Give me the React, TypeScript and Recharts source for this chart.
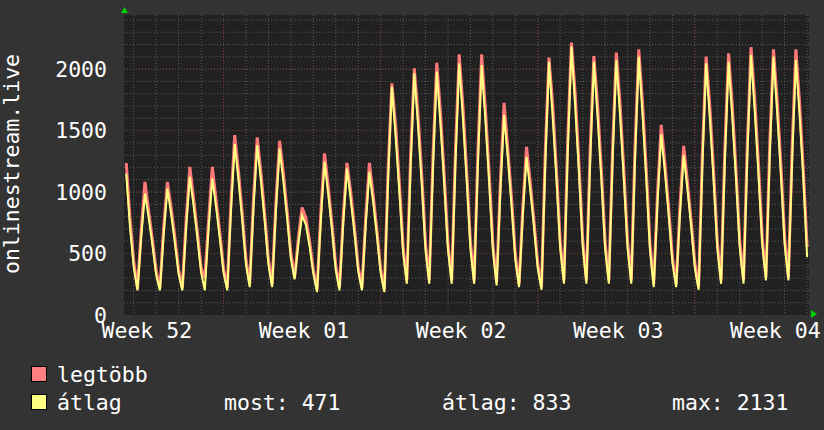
import { LineChart, Line, XAxis, YAxis, CartesianGrid } from "recharts";

// one point every 4 hours, Week 52 -> Week 04
const weekLabels = ["Week 52", "Week 01", "Week 02", "Week 03", "Week 04"];
const weekTicks = [5.5, 47.5, 89.5, 131.5, 173.5];
const valueTicks = [0, 500, 1000, 1500, 2000];

const legtobb = [
  1235, 790, 440,
  215, 690, 1082, 845, 612, 360,
  218, 712, 1082, 872, 632, 368,
  220, 768, 1205, 948, 680, 385,
  300, 760, 1205, 940, 675, 382,
  222, 925, 1463, 1168, 830, 455,
  250, 935, 1444, 1160, 825, 455,
  248, 915, 1417, 1155, 845, 505,
  305, 625, 874, 790, 605, 372,
  205, 830, 1314, 1045, 740, 405,
  220, 805, 1237, 1000, 714, 395,
  222, 790, 1237, 978, 692, 378,
  205, 1190, 1884, 1545, 1080, 560,
  278, 1290, 2006, 1630, 1135, 580,
  280, 1300, 2052, 1640, 1140, 583,
  282, 1340, 2120, 1695, 1175, 595,
  280, 1330, 2120, 1680, 1160, 580,
  265, 1082, 1726, 1352, 948, 496,
  250, 873, 1368, 1078, 763, 416,
  228, 1323, 2093, 1705, 1180, 597,
  280, 1420, 2215, 1803, 1242, 620,
  280, 1347, 2107, 1705, 1180, 597,
  280, 1355, 2134, 1716, 1187, 600,
  280, 1372, 2161, 1731, 1186, 580,
  250, 984, 1547, 1229, 868, 469,
  250, 882, 1376, 1088, 770, 418,
  228, 1315, 2101, 1695, 1174, 595,
  280, 1347, 2128, 1705, 1180, 597,
  280, 1380, 2178, 1756, 1223, 631,
  305, 1385, 2161, 1745, 1215, 629,
  305, 1368, 2161, 1717, 1177, 553,
];

const atlag = [
  1150, 716, 390,
  200, 633, 988, 791, 570, 326,
  200, 655, 1028, 821, 589, 332,
  200, 708, 1123, 892, 634, 348,
  200, 700, 1110, 882, 628, 346,
  200, 854, 1390, 1099, 774, 413,
  227, 862, 1381, 1093, 769, 412,
  227, 847, 1354, 1088, 790, 460,
  290, 577, 811, 735, 560, 340,
  186, 768, 1245, 984, 691, 367,
  200, 745, 1191, 943, 666, 359,
  200, 730, 1164, 920, 646, 342,
  186, 1105, 1857, 1456, 1007, 510,
  254, 1196, 1966, 1538, 1059, 528,
  254, 1203, 1979, 1548, 1065, 530,
  254, 1240, 2047, 1599, 1097, 541,
  254, 1232, 2033, 1585, 1083, 527,
  240, 1002, 1626, 1276, 885, 451,
  227, 809, 1286, 1016, 713, 378,
  205, 1225, 2060, 1609, 1103, 543,
  254, 1315, 2183, 1701, 1161, 563,
  254, 1247, 2060, 1609, 1103, 543,
  254, 1255, 2074, 1619, 1109, 545,
  254, 1270, 2101, 1633, 1108, 527,
  227, 911, 1470, 1159, 811, 426,
  227, 817, 1300, 1026, 720, 380,
  205, 1218, 2047, 1599, 1097, 541,
  254, 1247, 2060, 1609, 1103, 543,
  254, 1278, 2115, 1657, 1143, 574,
  281, 1282, 2101, 1646, 1136, 572,
  281, 1267, 2074, 1620, 1100, 471,
];

// grid: every 100 / every day, major every 500 / every week
const minorY = Array.from({ length: 24 }, (_, i) => (i + 1) * 100);
const majorY = [500, 1000, 1500, 2000];
const minorX = Array.from({ length: 31 }, (_, i) => 2 + i * 6);
const majorX = [26, 68, 110, 152];

const data = legtobb.map((v, i) => ({ i, max: v, avg: atlag[i] }));

const FONT = "DejaVu Sans Mono";
const SIZE = 21.5;

function YTick({ y, payload }: any) {
  return (
    <text x={107} y={y + 7.5} textAnchor="end" fill="#fff" fontSize={SIZE} fontFamily={FONT}>
      {payload.value}
    </text>
  );
}

function XTick({ x, y, payload }: any) {
  const label = weekLabels[weekTicks.indexOf(payload.value)];
  return (
    <text x={x} y={y + 22.5} textAnchor="middle" fill="#fff" fontSize={SIZE} fontFamily={FONT}>
      {label}
    </text>
  );
}

export default function App() {
  return (
    <div style={{ position: "relative", width: 824, height: 430, background: "#333" }}>
      <style>{"body{margin:0;background:#333}"}</style>
      <LineChart width={824} height={430} data={data} margin={{ top: 15, right: 15, left: 0, bottom: 0 }}>
        <CartesianGrid
          fill="#212121"
          stroke="#5a5a5a"
          strokeDasharray="1 2"
          horizontalValues={minorY}
          verticalValues={minorX}
        />
        <CartesianGrid
          stroke="#7a3c3c"
          strokeDasharray="1 2"
          horizontalValues={majorY}
          verticalValues={majorX}
        />
        <XAxis
          type="number"
          dataKey="i"
          domain={[-0.6, 182.5]}
          allowDataOverflow
          ticks={weekTicks}
          tick={<XTick />}
          tickLine={false}
          tickSize={0}
          tickMargin={0}
          axisLine={false}
          height={115}
          interval={0}
        />
        <YAxis
          type="number"
          domain={[0, 2440]}
          allowDataOverflow
          ticks={valueTicks}
          tick={<YTick />}
          tickLine={false}
          axisLine={false}
          width={124}
          interval={0}
        />
        <Line
          type="linear"
          dataKey="max"
          stroke="#ff7878"
          strokeWidth={3}
          dot={false}
          activeDot={false}
          isAnimationActive={false}
        />
        <Line
          type="linear"
          dataKey="avg"
          stroke="#ffff80"
          strokeWidth={2}
          dot={false}
          activeDot={false}
          isAnimationActive={false}
        />
      </LineChart>

      <svg
        width={824}
        height={430}
        style={{ position: "absolute", left: 0, top: 0, pointerEvents: "none" }}
        fontFamily={FONT}
        fontSize={SIZE}
        fill="#fff"
      >
        <text transform="translate(19,164) rotate(-90)" textAnchor="middle">
          onlinestream.live
        </text>
        <polygon points="121,13 128,13 124.5,7" fill="#00d000" />
        <polygon points="811,310 811,318 817,314" fill="#00d000" />

        <rect x={31.5} y={366.5} width={15} height={15} fill="#ff8080" stroke="#000" />
        <text x={57} y={382}>legtöbb</text>
        <rect x={31.5} y={394.5} width={15} height={15} fill="#ffff80" stroke="#000" />
        <text x={57} y={410}>átlag</text>
        <text x={224} y={410}>most: 471</text>
        <text x={442} y={410}>átlag: 833</text>
        <text x={672} y={410}>max: 2131</text>
      </svg>
    </div>
  );
}
